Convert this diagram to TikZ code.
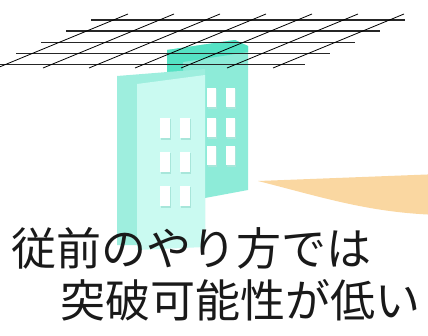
\documentclass[tikz,border=0pt]{standalone}
\usepackage{fontspec}
\setmainfont{Noto Sans CJK JP}
\definecolor{roofteal}{HTML}{55E2C4}
\definecolor{backteal}{HTML}{8DEBD8}
\definecolor{sideteal}{HTML}{9EEEDE}
\definecolor{faceteal}{HTML}{CAFAF1}
\definecolor{shadeteal}{HTML}{A8E6DA}
\definecolor{beam}{HTML}{FAD7A1}

\begin{document}
\begin{tikzpicture}[
    x=1pt, y=-1pt,
    gridline/.style={draw=black!85, line width=1.4pt},
    slantline/.style={draw=black, line width=0.8pt},
    window/.style={fill=white},
    winshade/.style={fill=shadeteal},
    caption/.style={anchor=base west, inner sep=0pt, font=\fontsize{45}{50}\selectfont, text=black!90}
]
\useasboundingbox (0,0) rectangle (428,335);
\clip (0,0) rectangle (428,335);

% back tower
\fill[backteal] (167,50) -- (235,40) -- (248,46) -- (248,190) -- (205,198) -- (205,74) -- (167,78) -- cycle;
\fill[roofteal] (167,50) -- (235,40) -- (248,46) -- (248,52) -- (183,62) -- (183,76) -- (167,78) -- cycle;

% front slab
\fill[sideteal] (117,76) -- (205,69) -- (205,245) -- (117,245) -- cycle;
\fill[faceteal] (137,84) -- (205,75) -- (205,247) -- (137,250) -- cycle;

% windows on the slab
\foreach \x in {160,180}
  \foreach \y in {118,152,186} {
    \fill[winshade] (\x+1,\y+1) rectangle ++(10,21);
    \fill[window] (\x,\y) rectangle ++(10,20);
  }

% windows on the tower
\foreach \x in {207,226}
  \foreach \y in {88,118,146} {
    \fill[winshade] (\x+1,\y+1) rectangle ++(9,20);
    \fill[window] (\x,\y) rectangle ++(9,19);
  }

% light beam
\fill[beam] (258,181) -- (440,174) -- (440,215) .. controls (370,213) and (325,198) .. (258,181) -- cycle;

% grid
\foreach \i in {0,...,4}
  \draw[gridline] ({91-25*\i},{20+11.15*\i}) -- ({405-25*\i},{20+11.15*\i});
\foreach \j in {0,...,6}
  \draw[slantline] ({-3+46*\j},68) -- ({128+46*\j},14);

% caption
\node[caption] (line1) at (11,265) {従前のやり方では};
\node[caption] (line2) at (60,317) {突破可能性が低い};

\end{tikzpicture}
\end{document}
